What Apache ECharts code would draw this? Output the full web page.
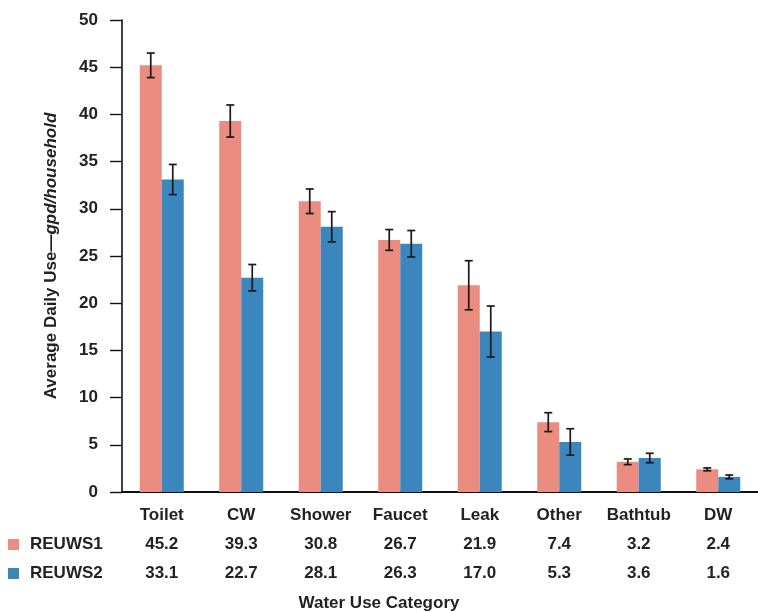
<!DOCTYPE html>
<html>
<head>
<meta charset="utf-8">
<script src="https://cdn.jsdelivr.net/npm/echarts@6/dist/echarts.min.js"></script>
<style>
html, body { margin: 0; padding: 0; background: #fff; }
#main { width: 758px; height: 612px; }
</style>
</head>
<body>
<div id="main"></div>
<script>
var categories = ["Toilet", "CW", "Shower", "Faucet", "Leak", "Other", "Bathtub", "DW"];
var reuws1 = [45.2, 39.3, 30.8, 26.7, 21.9, 7.4, 3.2, 2.4];
var reuws2 = [33.1, 22.7, 28.1, 26.3, 17.0, 5.3, 3.6, 1.6];
// half length of the error bars
var err1 = [1.3, 1.7, 1.3, 1.1, 2.6, 1.0, 0.3, 0.15];
var err2 = [1.6, 1.4, 1.6, 1.4, 2.7, 1.4, 0.5, 0.2];
var yTicks = [0, 5, 10, 15, 20, 25, 30, 35, 40, 45, 50];

var font = "Liberation Sans";
var c1 = "#eb8c80";
var c2 = "#3b86bd";

function errData(vals, errs) {
	var out = [];
	for (var i = 0; i < vals.length; i++) {
		out.push([i, vals[i] - errs[i], vals[i] + errs[i]]);
	}
	return out;
}

function errSeries(vals, errs, shift) {
	return {
		type: "custom",
		z: 5,
		silent: true,
		data: errData(vals, errs),
		renderItem: function(params, api) {
			var lo = api.coord([api.value(0), api.value(1)]);
			var hi = api.coord([api.value(0), api.value(2)]);
			var x = lo[0] + shift;
			var cap = 4;
			var st = { stroke: "#1a1a1a", lineWidth: 1.7 };
			return {
				type: "group",
				children: [
					{ type: "line", shape: { x1: x, y1: lo[1], x2: x, y2: hi[1] }, style: st },
					{ type: "line", shape: { x1: x - cap, y1: lo[1], x2: x + cap, y2: lo[1] }, style: st },
					{ type: "line", shape: { x1: x - cap, y1: hi[1], x2: x + cap, y2: hi[1] }, style: st }
				]
			};
		}
	};
}

var chart = echarts.init(document.getElementById("main"));
var option = {
	backgroundColor: "#ffffff",
	animation: false,
	textStyle: { fontFamily: font },
	grid: { left: 122, right: -6, top: 20, bottom: 120 },
	title: {
		text: "Water Use Category",
		left: "center",
		top: 590,
		textStyle: { fontFamily: font, fontSize: 17, fontWeight: "bold", color: "#222" }
	},
	legend: {
		orient: "vertical",
		left: 3,
		top: 531,
		icon: "rect",
		itemWidth: 11,
		itemHeight: 11,
		itemGap: 12,
		data: ["REUWS1", "REUWS2"],
		textStyle: { fontFamily: font, fontSize: 17, fontWeight: "bold", color: "#222", padding: [6, 0, 0, 6] }
	},
	xAxis: {
		type: "category",
		data: categories,
		axisLine: { lineStyle: { color: "#111", width: 2 } },
		axisTick: { show: false },
		axisLabel: {
			margin: 9,
			interval: 0,
			formatter: function(v, i) {
				return "{c|" + v + "}\n{v|" + reuws1[i].toFixed(1) + "}\n{v|" + reuws2[i].toFixed(1) + "}";
			},
			rich: {
				c: { fontFamily: font, fontSize: 17, fontWeight: "bold", color: "#222", lineHeight: 29 },
				v: { fontFamily: font, fontSize: 17, fontWeight: "bold", color: "#222", lineHeight: 29 }
			}
		}
	},
	yAxis: {
		type: "value",
		min: yTicks[0],
		max: yTicks[yTicks.length - 1],
		interval: 5,
		name: "{a|Average Daily Use\u2014}{b|gpd/household}",
		nameLocation: "middle",
		nameGap: 62,
		nameTextStyle: {
			rich: {
				a: { fontFamily: font, fontSize: 17, fontWeight: "bold", color: "#222" },
				b: { fontFamily: font, fontSize: 17, fontWeight: "bold", fontStyle: "italic", color: "#222" }
			}
		},
		axisLine: { show: true, lineStyle: { color: "#111", width: 1.6 } },
		axisTick: { show: true, length: 12, lineStyle: { color: "#111", width: 1.4 } },
		splitLine: { show: false },
		axisLabel: { margin: 24, fontFamily: font, fontSize: 17, fontWeight: "bold", color: "#222" }
	},
	series: [
		{ name: "REUWS1", type: "bar", data: reuws1, barWidth: 22, barGap: "0%", itemStyle: { color: c1 } },
		{ name: "REUWS2", type: "bar", data: reuws2, barWidth: 22, barGap: "0%", itemStyle: { color: c2 } },
		errSeries(reuws1, err1, -11),
		errSeries(reuws2, err2, 11)
	]
};
chart.setOption(option);
</script>
</body>
</html>
